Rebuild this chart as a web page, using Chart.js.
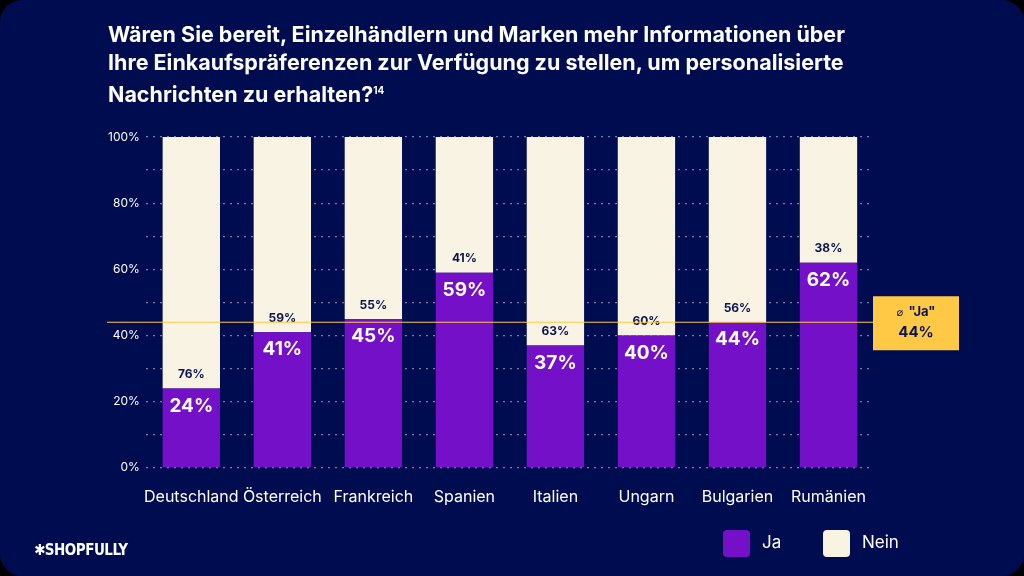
<!DOCTYPE html>
<html><head><meta charset="utf-8">
<script src="https://cdn.jsdelivr.net/npm/chart.js@4"></script>
<style>
html,body{margin:0;padding:0;background:#000;}
#wrap{position:relative;width:1024px;height:576px;background:#000c50;border-radius:22px;overflow:hidden;font-family:Inter,"Noto Sans",sans-serif;}
#title{position:absolute;left:108px;top:20px;width:780px;color:#fff;font-weight:700;font-size:21.5px;line-height:28px;}
#title sup{font-size:10px;}
#logo{position:absolute;left:34px;top:541px;color:#fff;font-weight:800;font-size:15px;letter-spacing:-0.5px;font-family:"Liberation Sans Narrow","DejaVu Sans Condensed",sans-serif;}
.leg{position:absolute;top:530px;color:#fff;font-size:17px;}
.leg span{display:inline-block;width:27px;height:27px;border-radius:4px;vertical-align:middle;margin-right:12px;}
canvas{position:absolute;left:0;top:0;}
</style></head><body>
<div id="wrap">
<canvas id="c" width="1024" height="576"></canvas>
<div id="title">Wären Sie bereit, Einzelhändlern und Marken mehr Informationen über Ihre Einkaufspräferenzen zur Verfügung zu stellen, um personalisierte Nachrichten zu erhalten?<sup>14</sup></div>
<div id="logo">✱SHOPFULLY</div>
<div class="leg" style="left:723px"><span style="background:#7410c8"></span>Ja</div>
<div class="leg" style="left:823px"><span style="background:#f9f3e3"></span>Nein</div>
</div>
<script>
const countries = ['Deutschland','Österreich','Frankreich','Spanien','Italien','Ungarn','Bulgarien','Rumänien'];
const ja = [24, 41, 45, 59, 37, 40, 44, 62];
const nein = [76, 59, 55, 41, 63, 60, 56, 38];
const average = 44;
const yTicks = [0, 20, 40, 60, 80, 100];

const PURPLE = '#7410c8', CREAM = '#f9f3e3', GOLD = '#ffc845';

const overlay = {
    id: 'overlay',
    afterDatasetsDraw(chart) {
        const ctx = chart.ctx, y = chart.scales.y;
        ctx.save();
        ctx.textAlign = 'center';
        chart.getDatasetMeta(0).data.forEach((bar, i) => {
            ctx.fillStyle = '#fff';
            ctx.font = 'bold 19px Inter, sans-serif';
            ctx.textBaseline = 'top';
            ctx.fillText(ja[i] + '%', bar.x, bar.y + 8);
            ctx.fillStyle = '#0a1450';
            ctx.font = 'bold 12px Inter, sans-serif';
            ctx.textBaseline = 'bottom';
            ctx.fillText(nein[i] + '%', bar.x, bar.y - 8);
        });
        const ay = y.getPixelForValue(average);
        ctx.strokeStyle = GOLD;
        ctx.lineWidth = 1.2;
        ctx.beginPath();
        ctx.moveTo(107, ay); ctx.lineTo(874, ay); ctx.stroke();
        ctx.fillStyle = GOLD;
        ctx.fillRect(873, ay - 26, 86, 54);
        ctx.fillStyle = '#0a1450';
        ctx.font = 'bold 13px Inter, sans-serif';
        ctx.textBaseline = 'middle';
        ctx.fillText('"Ja"', 922, ay - 10);
        ctx.font = '11px DejaVu Sans, sans-serif';
        ctx.fillText('⌀', 900, ay - 9);
        ctx.font = 'bold 15px Inter, sans-serif';
        ctx.fillText(average + '%', 916, ay + 10);
        ctx.restore();
    }
};

new Chart(document.getElementById('c'), {
    type: 'bar',
    data: {
        labels: countries,
        datasets: [
            { label: 'Ja', data: ja, backgroundColor: PURPLE },
            { label: 'Nein', data: nein, backgroundColor: CREAM }
        ]
    },
    options: {
        responsive: false,
        animation: false,
        layout: { padding: { left: 102, right: 150, top: 137, bottom: 57 } },
        datasets: { bar: { barPercentage: 0.63, categoryPercentage: 1 } },
        plugins: { legend: { display: false }, tooltip: { enabled: false } },
        scales: {
            x: {
                stacked: true,
                grid: { display: false },
                border: { display: false },
                ticks: { color: '#fff', font: { size: 16, family: 'Inter' }, padding: 12, maxRotation: 0, minRotation: 0, autoSkip: false }
            },
            y: {
                stacked: true, min: 0, max: 100,
                afterBuildTicks(s) { s.ticks = []; for (let v = 0; v <= 100; v += 10) s.ticks.push({ value: v }); },
                grid: { color: 'rgba(200,200,230,0.6)', lineWidth: 1.2, drawTicks: false },
                border: { display: false, dash: [2, 5] },
                ticks: {
                    color: '#fff', font: { size: 12, family: 'Inter' }, padding: 6,
                    callback: v => yTicks.includes(v) ? v + '%' : ''
                }
            }
        }
    },
    plugins: [overlay]
});
</script>
</body></html>
